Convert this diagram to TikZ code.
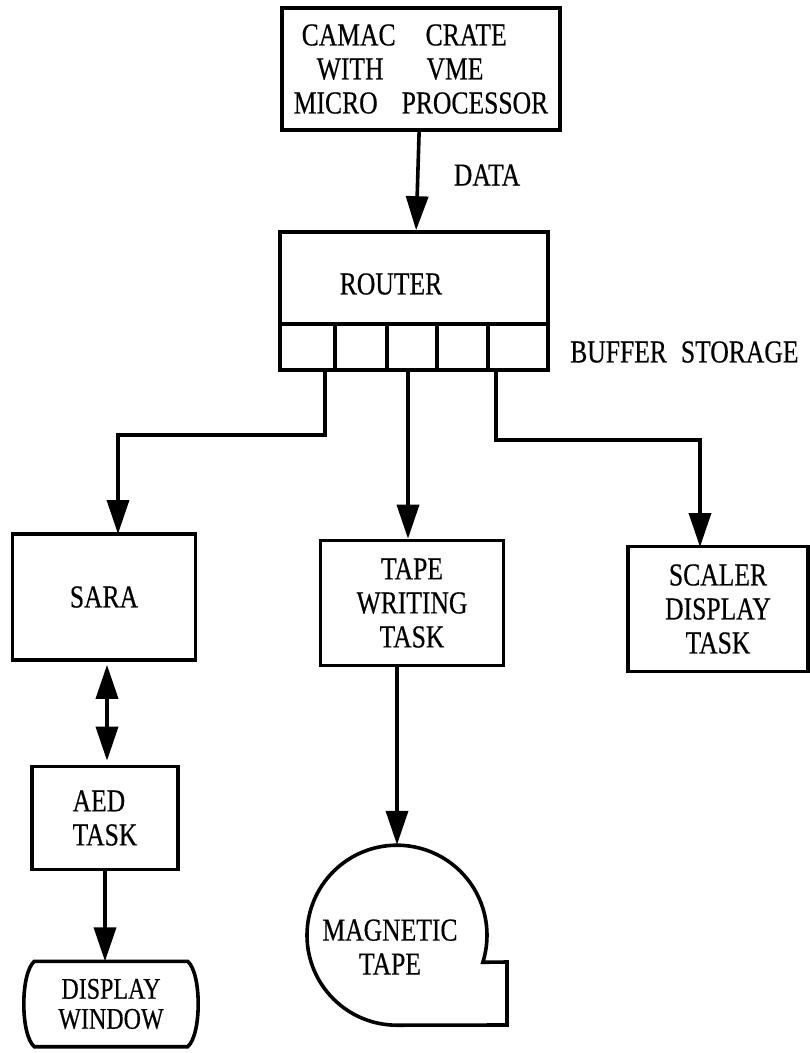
\documentclass[tikz,border=0pt]{standalone}
\usepackage{fontspec}
\setmainfont{Liberation Serif}[FakeStretch=0.8,FakeBold=0.4]
\usetikzlibrary{arrows.meta,positioning,calc}

\begin{document}
\begin{tikzpicture}[x=1pt,y=-1pt,
  every node/.style={font=\fontsize{32}{34}\selectfont},
  box/.style={draw,line width=3.6pt,inner sep=0pt,align=center},
  line/.style={line width=3.6pt},
  arr/.style={-{Triangle[length=34pt,width=22pt]},line width=3.6pt},
  dbl/.style={{Triangle[length=34pt,width=22pt]}-{Triangle[length=34pt,width=22pt]},line width=3.6pt}]
\useasboundingbox (0,0) rectangle (810,1053);
% source and router
\node[box,minimum width=278,minimum height=122,align=left] (crate) at (421,69)
  {\hspace*{8pt}CAMAC\hspace{30pt}CRATE\\\hspace*{23pt}WITH\hspace{43pt}VME\\MICRO\hspace{24pt}PROCESSOR};
\node[box,minimum width=268,minimum height=138] (router) at (414,301) {};
\node (routerlbl) at (391,284) {ROUTER};
\node (data) at (487,175) {DATA};
\node[anchor=west,inner xsep=0pt] (buffer) at (570,352) {BUFFER\hspace{14pt}STORAGE};
\draw[arr] (crate) -- (router);
\draw[line] (280,324) -- (548,324);
\foreach \bx in {335,387,437,488}
  \draw[line] (\bx,324) -- (\bx,370);
\coordinate (outa) at (325,370);
\coordinate (outb) at (408,370);
\coordinate (outc) at (496,370);
% tasks
\node[box,minimum width=183,minimum height=126] (sara) at (104,597) {SARA};
\node[box,minimum width=183,minimum height=125] (tapebox) at (412,603) {TAPE\\WRITING\\TASK};
\node[box,minimum width=180,minimum height=125] (scaler) at (718,609) {SCALER\\DISPLAY\\TASK};
\node[box,minimum width=146,minimum height=103,align=left] (aed) at (105,818) {AED\\TASK};
\coordinate (sarain) at (118,534);
\coordinate (scalerin) at (700,547);
\draw[arr] (outa) -- ++(0,65) -| (sarain);
\draw[arr] (outb) -- (outb |- tapebox.north);
\draw[arr] (outc) -- ++(0,70) -| (scalerin);
\draw[dbl] ($(sara.south)+(3,3)$) -- ($(aed.north)+(2,-4)$);
% outputs
\node[minimum width=153,minimum height=85,inner sep=0pt,font=\fontsize{30}{30}\selectfont,align=center] (disp) at (111,1004) {DISPLAY\\WINDOW};
\draw[line] (disp.north west) -- (disp.north east)
  .. controls +(14,12) and +(14,-12) .. (disp.south east) -- (disp.south west)
  .. controls +(-14,-12) and +(-14,12) .. (disp.north west) -- cycle;
\draw[arr] (aed.south) -- (aed.south |- disp.north);
\node[circle,minimum size=180,inner sep=0pt] (magtape) at (397,935) {};
\draw[line] (magtape.south) arc[start angle=90,end angle=377.5,radius=90]
  -- (507,962) -- (507,1025) -- cycle;
\node[align=center] (magtxt) at (390,947) {MAGNETIC\\TAPE};
\draw[arr] (magtape.north |- tapebox.south) -- (magtape.north);
\end{tikzpicture}
\end{document}
